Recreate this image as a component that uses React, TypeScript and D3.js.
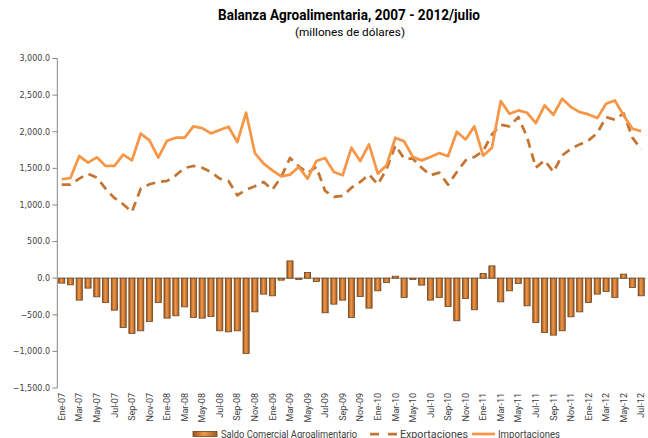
import React from "react";
import * as d3 from "d3";

const monthNames = ["Ene", "Feb", "Mar", "Abr", "May", "Jun", "Jul", "Ago", "Sep", "Oct", "Nov", "Dic"];
const years = ["07", "08", "09", "10", "11", "12"];
const categories: string[] = [];
years.forEach((y) => monthNames.forEach((m) => categories.push(`${m}-${y}`)));
categories.splice(67);

const importaciones = [
  1350, 1368, 1668, 1578, 1650, 1532, 1532, 1687, 1609, 1973, 1882, 1646,
  1877, 1918, 1918, 2073, 2050, 1977, 2023, 2068, 1859, 2259, 1709, 1564,
  1473, 1391, 1414, 1518, 1359, 1600, 1641, 1450, 1405, 1782, 1600, 1827,
  1427, 1541, 1918, 1868, 1655, 1609, 1655, 1709, 1664, 2000, 1895, 2073,
  1673, 1782, 2418, 2245, 2291, 2259, 2118, 2359, 2232, 2450, 2336, 2268,
  2236, 2186, 2382, 2427, 2223, 2041, 2009,
];

const exportaciones = [
  1277, 1277, 1359, 1427, 1373, 1223, 1095, 1009, 905, 1223, 1282, 1314,
  1327, 1405, 1505, 1532, 1509, 1450, 1359, 1327, 1132, 1209, 1255, 1314,
  1209, 1382, 1641, 1527, 1436, 1520, 1191, 1109, 1123, 1236, 1314, 1418,
  1280, 1490, 1814, 1632, 1632, 1509, 1405, 1441, 1277, 1450, 1609, 1655,
  1736, 1964, 2095, 2073, 2200, 1927, 1509, 1609, 1450, 1677, 1768, 1827,
  1882, 1982, 2200, 2164, 2250, 1920, 1760,
];

const saldo = [
  -68, -91, -300, -136, -255, -333, -437, -674, -756, -719, -592, -333,
  -546, -514, -392, -537, -546, -524, -719, -733, -719, -1029, -460, -218,
  -241, -27, 236, -19, 77, -46, -473, -355, -300, -537, -251, -409,
  -173, -60, 27, -265, -19, -95, -300, -265, -387, -582, -278, -432,
  63, 168, -323, -173, -74, -378, -606, -742, -778, -719, -528, -460,
  -333, -218, -183, -265, 55, -128, -241,
];

const yTicks = [3000, 2500, 2000, 1500, 1000, 500, 0, -500, -1000, -1500];

const title = "Balanza Agroalimentaria, 2007 - 2012/julio";
const subtitle = "(millones de dólares)";
const legendLabels = ["Saldo Comercial Agroalimentario", "Exportaciones", "Importaciones"];

export default function App() {
  const W = 648;
  const H = 438;
  const x = d3
    .scaleBand<string>()
    .domain(categories)
    .range([57.3, 645.6])
    .paddingInner(0.3)
    .paddingOuter(0.15);
  const y = d3.scaleLinear().domain([-1500, 3000]).range([388, 58.5]);
  const cx = (i: number) => (x(categories[i]) as number) + x.bandwidth() / 2;

  const line = d3
    .line<number>()
    .x((_, i) => cx(i))
    .y((d) => y(d));

  const fmt = d3.format(",.1f");
  const impColor = "#f79646";
  const expColor = "#c47532";
  const tickFont = "'DejaVu Sans', Verdana, sans-serif";
  const labelFont = "Roboto, 'Open Sans', sans-serif";

  return (
    <svg
      width={W}
      height={H}
      style={{ position: "absolute", left: 0, top: 0, background: "#fff" }}
    >
      <defs>
        <linearGradient id="barGrad" x1="0" y1="0" x2="1" y2="0">
          <stop offset="0%" stopColor="#9a5318" />
          <stop offset="45%" stopColor="#f0984a" />
          <stop offset="100%" stopColor="#a45b1c" />
        </linearGradient>
      </defs>

      {/* Title */}
      <text
        x={349}
        y={20}
        textAnchor="middle"
        fontFamily={labelFont}
        fontWeight="bold"
        fontSize={14}
        fill="#000"
        textLength={262}
        lengthAdjust="spacingAndGlyphs"
      >
        {title}
      </text>
      <text
        x={350}
        y={36}
        textAnchor="middle"
        fontFamily={labelFont}
        fontSize={11.5}
        fill="#000"
        textLength={110}
        lengthAdjust="spacingAndGlyphs"
      >
        {subtitle}
      </text>

      {/* Y axis */}
      <line x1={57.3} x2={57.3} y1={y(3000)} y2={y(-1500)} stroke="#868686" strokeWidth={1} />
      {yTicks.map((t) => (
        <g key={t}>
          <line x1={52.5} x2={57.3} y1={y(t)} y2={y(t)} stroke="#868686" strokeWidth={1} />
          <text
            x={50}
            y={y(t)}
            dy="0.35em"
            textAnchor="end"
            fontFamily={tickFont}
            fontSize={8}
            fill="#404040"
          >
            {fmt(t)}
          </text>
        </g>
      ))}

      {/* Zero line */}
      <line x1={57.3} x2={645.6} y1={y(0)} y2={y(0)} stroke="#b3b3b3" strokeWidth={1.5} />

      {/* Bars */}
      {saldo.map((v, i) => {
        const x0 = x(categories[i]) as number;
        const top = Math.min(y(v), y(0));
        const h = Math.abs(y(v) - y(0));
        return (
          <rect
            key={i}
            x={x0}
            y={top}
            width={x.bandwidth()}
            height={h}
            fill="url(#barGrad)"
            stroke="#6e4420"
            strokeWidth={0.8}
          />
        );
      })}

      {/* Lines */}
      <path
        d={line(exportaciones) || ""}
        fill="none"
        stroke={expColor}
        strokeWidth={2.75}
        strokeDasharray="9,6"
        strokeLinejoin="round"
      />
      <path
        d={line(importaciones) || ""}
        fill="none"
        stroke={impColor}
        strokeWidth={2.75}
        strokeLinejoin="round"
      />

      {/* X labels */}
      {categories.map((c, i) =>
        i % 2 === 0 ? (
          <text
            key={c}
            transform={`translate(${cx(i)},393) rotate(-90)`}
            dy="0.35em"
            textAnchor="end"
            fontFamily={labelFont}
            fontSize={9}
            fill="#404040"
          >
            {c}
          </text>
        ) : null
      )}

      {/* Legend */}
      <rect x={193} y={431.5} width={24} height={5} fill="url(#barGrad)" stroke="#6e4420" strokeWidth={0.8} />
      <text
        x={221}
        y={437.5}
        fontFamily={labelFont}
        fontSize={10}
        fill="#404040"
        textLength={136}
        lengthAdjust="spacingAndGlyphs"
      >
        {legendLabels[0]}
      </text>
      <line x1={370} x2={397} y1={434} y2={434} stroke={expColor} strokeWidth={2.75} strokeDasharray="9,9" />
      <text
        x={400}
        y={437.5}
        fontFamily={labelFont}
        fontSize={10}
        fill="#404040"
        textLength={68}
        lengthAdjust="spacingAndGlyphs"
      >
        {legendLabels[1]}
      </text>
      <line x1={472} x2={495} y1={434} y2={434} stroke={impColor} strokeWidth={2.75} />
      <text
        x={498}
        y={437.5}
        fontFamily={labelFont}
        fontSize={10}
        fill="#404040"
        textLength={62}
        lengthAdjust="spacingAndGlyphs"
      >
        {legendLabels[2]}
      </text>
    </svg>
  );
}
